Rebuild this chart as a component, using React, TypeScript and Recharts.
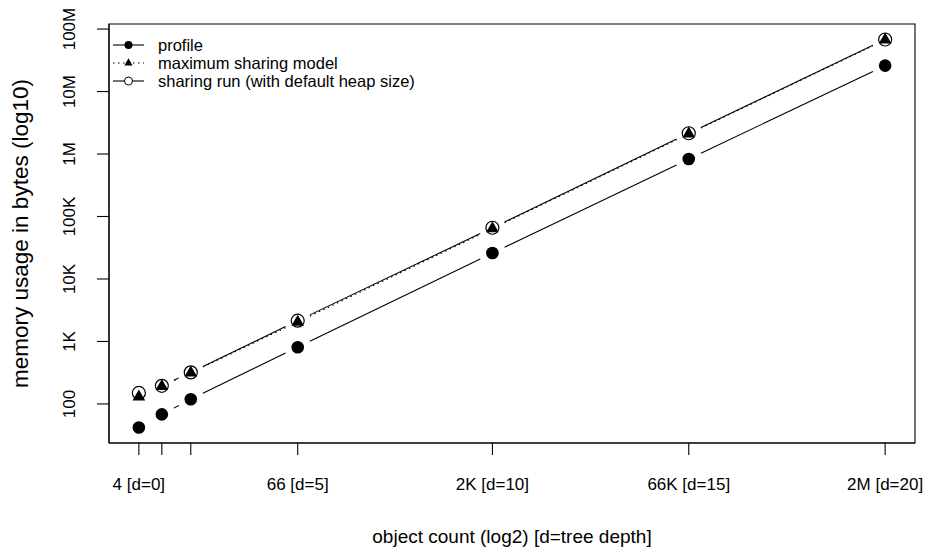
import React from "react";
import {
  ComposedChart,
  Legend,
  Line,
  ReferenceArea,
  XAxis,
  YAxis,
} from "recharts";

const treeDepths = [0, 1, 2, 5, 10, 15, 20];
const objectCounts = [4, 6, 10, 66, 2050, 65538, 2097154];
const profileBytes = [42, 68, 119, 810, 26000, 830000, 26000000];
const modelBytes = [130, 192, 315, 2050, 64000, 2100000, 67000000];
const runBytes = [150, 195, 320, 2150, 66000, 2150000, 68000000];

const xTicks = [4, 6, 10, 66, 2050, 65538, 2097154];
const xTickLabels = ["4 [d=0]", "", "", "66 [d=5]", "2K [d=10]", "66K [d=15]", "2M [d=20]"];
const yTicks = [1e2, 1e3, 1e4, 1e5, 1e6, 1e7, 1e8];
const yTickLabels = ["100", "1K", "10K", "100K", "1M", "10M", "100M"];

const seriesNames = ["profile", "maximum sharing model", "sharing run (with default heap size)"];

const FONT = '"Liberation Sans", Arial, Helvetica, sans-serif';
const INK = "#000";
const GAP = 13.5; // R type="b": lines stop short of each point
const DOTTED = "1.5 3.5";

const data = objectCounts.map((count, i) => ({
  depth: treeDepths[i],
  count,
  profile: profileBytes[i],
  model: modelBytes[i],
  run: runBytes[i],
}));

// R-style axis range: 4% padding on each side, in log space
function padLog(values: number[], base: number): [number, number] {
  const logs = values.map((v) => Math.log(v) / Math.log(base));
  const lo = Math.min(...logs);
  const hi = Math.max(...logs);
  const pad = (hi - lo) * 0.04;
  return [Math.pow(base, lo - pad), Math.pow(base, hi + pad)];
}

const xDomain = padLog(objectCounts, 2);
const yDomain = padLog([...profileBytes, ...modelBytes, ...runBytes], 10);

function XTick({ x, y, payload }: any) {
  const label = xTickLabels[xTicks.indexOf(payload.value)] ?? "";
  return (
    <text x={x} y={y + 35} textAnchor="middle" fontSize={17} fontFamily={FONT} fill={INK}>
      {label}
    </text>
  );
}

function YTick({ x, y, payload }: any) {
  const label = yTickLabels[yTicks.indexOf(payload.value)] ?? "";
  const tx = x - 22;
  return (
    <text
      x={tx}
      y={y}
      transform={`rotate(-90 ${tx} ${y})`}
      textAnchor="middle"
      fontSize={17}
      fontFamily={FONT}
      fill={INK}
    >
      {label}
    </text>
  );
}

type Marker = "filled" | "triangle" | "open";

function markerEl(kind: Marker, cx: number, cy: number) {
  if (kind === "filled") return <circle cx={cx} cy={cy} r={6.3} fill={INK} />;
  if (kind === "open")
    return <circle cx={cx} cy={cy} r={6.5} fill="none" stroke={INK} strokeWidth={1.2} />;
  const r = 7.3;
  const hw = r * 0.866;
  return (
    <polygon
      points={`${cx},${cy - r} ${cx + hw},${cy + r / 2} ${cx - hw},${cy + r / 2}`}
      fill={INK}
    />
  );
}

// point + the segment to the next point, cut back by GAP at both ends
function typeBDot(kind: Marker, dash?: string) {
  return (props: any) => {
    const { cx, cy, index, points } = props;
    const next = points?.[index + 1];
    let seg = null;
    if (next) {
      const dx = next.x - cx;
      const dy = next.y - cy;
      const len = Math.hypot(dx, dy);
      if (len > 2 * GAP) {
        const ux = dx / len;
        const uy = dy / len;
        seg = (
          <line
            x1={cx + ux * GAP}
            y1={cy + uy * GAP}
            x2={next.x - ux * GAP}
            y2={next.y - uy * GAP}
            stroke={INK}
            strokeWidth={1.1}
            strokeDasharray={dash}
          />
        );
      }
    }
    return (
      <g key={`pt-${kind}-${index}`}>
        {seg}
        {markerEl(kind, cx, cy)}
      </g>
    );
  };
}

function LegendIcon({ kind }: { kind: number }) {
  return (
    <svg width={49} height={18} style={{ display: "block" }}>
      <line
        x1={4}
        x2={35}
        y1={9}
        y2={9}
        stroke={INK}
        strokeWidth={1.1}
        strokeDasharray={kind === 1 ? DOTTED : undefined}
      />
      {kind === 0 && <circle cx={19.5} cy={9} r={4} fill={INK} />}
      {kind === 1 && <polygon points="19.5,4.3 23.6,11.4 15.4,11.4" fill={INK} />}
      {kind === 2 && <circle cx={19.5} cy={9} r={4} fill="#fff" stroke={INK} strokeWidth={1} />}
    </svg>
  );
}

function LegendBox() {
  return (
    <div style={{ fontFamily: FONT, fontSize: 16.5, color: INK }}>
      {seriesNames.map((name, i) => (
        <div key={name} style={{ display: "flex", alignItems: "center", height: 18 }}>
          <LegendIcon kind={i} />
          <span style={{ lineHeight: "18px", whiteSpace: "nowrap" }}>{name}</span>
        </div>
      ))}
    </div>
  );
}

export default function App() {
  return (
    <div style={{ position: "absolute", left: 0, top: 0, background: "#fff" }}>
      <ComposedChart
        width={932}
        height={553}
        data={data}
        margin={{ top: 24, right: 17, bottom: 0, left: 0 }}
      >
        <XAxis
          dataKey="count"
          type="number"
          scale="log"
          domain={xDomain}
          allowDataOverflow
          ticks={xTicks}
          interval={0}
          tick={<XTick />}
          tickSize={12}
          tickMargin={0}
          tickLine={{ stroke: INK, strokeWidth: 1.1 }}
          axisLine={{ stroke: INK, strokeWidth: 1.1 }}
          height={110}
          label={{
            content: ({ viewBox }: any) => (
              <text
                x={viewBox.x + viewBox.width / 2}
                y={543}
                textAnchor="middle"
                fontSize={19}
                fontFamily={FONT}
                fill={INK}
              >
                object count (log2) [d=tree depth]
              </text>
            ),
          }}
        />
        <YAxis
          type="number"
          scale="log"
          domain={yDomain}
          allowDataOverflow
          ticks={yTicks}
          interval={0}
          tick={<YTick />}
          tickSize={12}
          tickMargin={0}
          tickLine={{ stroke: INK, strokeWidth: 1.1 }}
          axisLine={{ stroke: INK, strokeWidth: 1.1 }}
          width={109}
          label={{
            content: ({ viewBox }: any) => {
              const cx = 28;
              const cy = viewBox.y + viewBox.height / 2;
              return (
                <text
                  x={cx}
                  y={cy}
                  transform={`rotate(-90 ${cx} ${cy})`}
                  textAnchor="middle"
                  fontSize={22.5}
                  fontFamily={FONT}
                  fill={INK}
                >
                  memory usage in bytes (log10)
                </text>
              );
            },
          }}
        />
        <ReferenceArea
          x1={xDomain[0]}
          x2={xDomain[1]}
          y1={yDomain[0]}
          y2={yDomain[1]}
          fill="none"
          stroke={INK}
          strokeWidth={1.1}
          ifOverflow="visible"
        />
        <Line
          dataKey="profile"
          name={seriesNames[0]}
          type="linear"
          stroke="none"
          dot={typeBDot("filled")}
          activeDot={false}
          isAnimationActive={false}
        />
        <Line
          dataKey="model"
          name={seriesNames[1]}
          type="linear"
          stroke="none"
          dot={typeBDot("triangle", DOTTED)}
          activeDot={false}
          isAnimationActive={false}
        />
        <Line
          dataKey="run"
          name={seriesNames[2]}
          type="linear"
          stroke="none"
          dot={typeBDot("open")}
          activeDot={false}
          isAnimationActive={false}
        />
        <Legend
          layout="vertical"
          align="center"
          verticalAlign="middle"
          content={() => <LegendBox />}
          wrapperStyle={{ left: 109, top: 36, width: 400, height: 54 }}
        />
      </ComposedChart>
    </div>
  );
}
